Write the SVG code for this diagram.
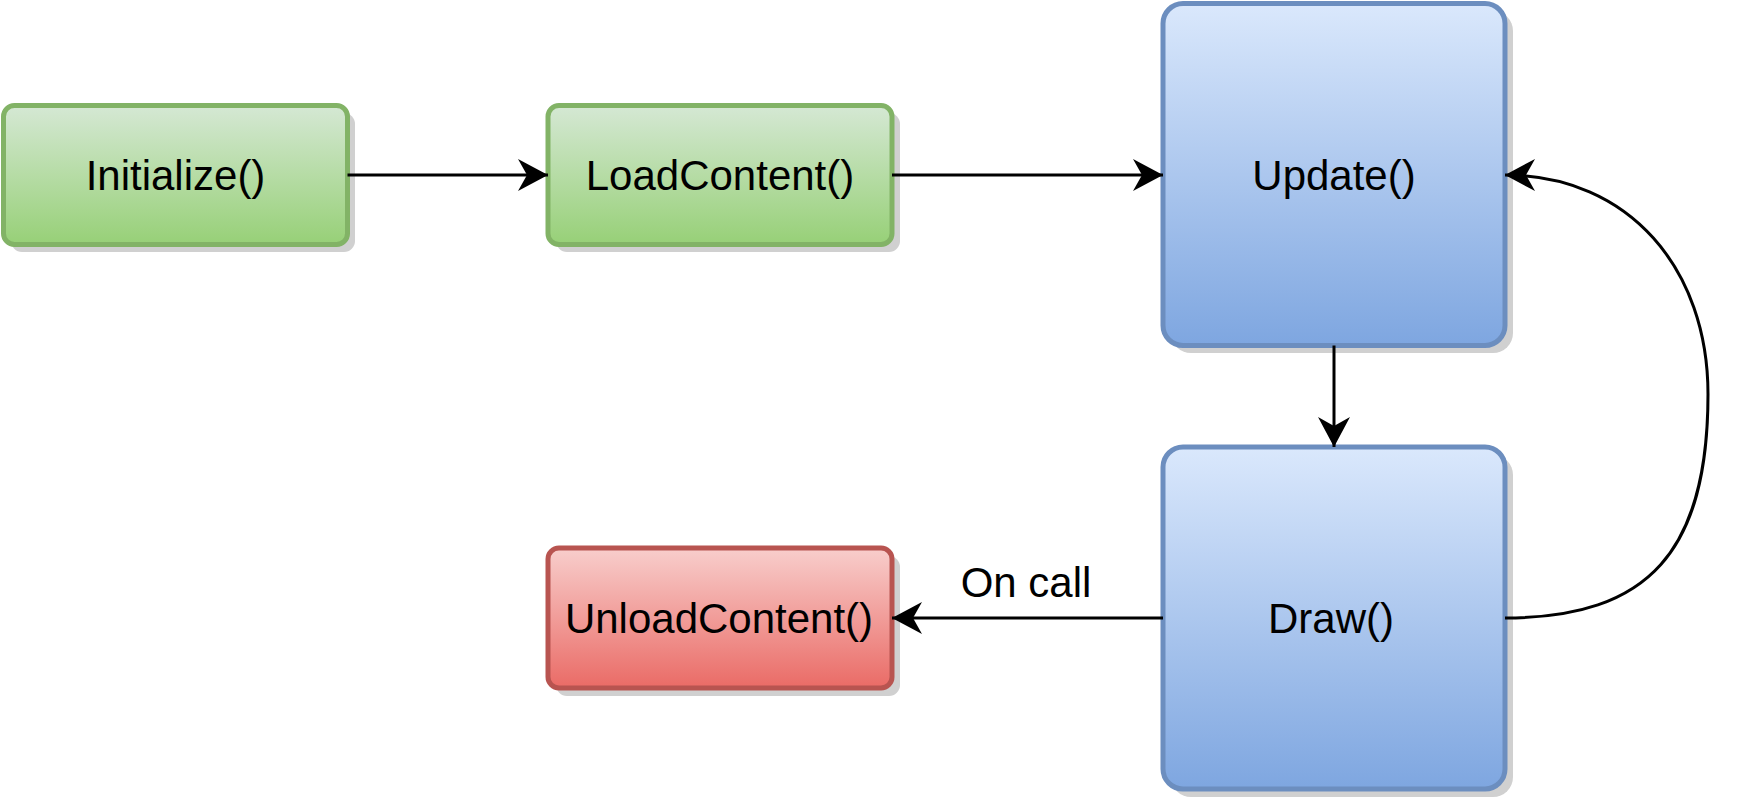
<svg xmlns="http://www.w3.org/2000/svg" width="1738" height="805" viewBox="0 0 1738 805">
  <style>
    .lbl { font-family: "Liberation Sans", Arial, Helvetica, sans-serif; font-size: 42px; fill: #000; text-anchor: middle; }
    .shadow { fill: #d0d0d0; }
    .green { fill: url(#gGreen); stroke: #82b366; stroke-width: 5; }
    .blue { fill: url(#gBlue); stroke: #6c8ebf; stroke-width: 5; }
    .red { fill: url(#gRed); stroke: #b85450; stroke-width: 5; }
    .edge { fill: none; stroke: #000; stroke-width: 3; }
  </style>
  <defs>
    <linearGradient id="gGreen" x1="0" y1="0" x2="0" y2="1">
      <stop offset="0" stop-color="#d5e8d4"/>
      <stop offset="1" stop-color="#97d077"/>
    </linearGradient>
    <linearGradient id="gBlue" x1="0" y1="0" x2="0" y2="1">
      <stop offset="0" stop-color="#dae8fc"/>
      <stop offset="1" stop-color="#7ea6e0"/>
    </linearGradient>
    <linearGradient id="gRed" x1="0" y1="0" x2="0" y2="1">
      <stop offset="0" stop-color="#f8cecc"/>
      <stop offset="1" stop-color="#ea6b66"/>
    </linearGradient>
    <marker id="arrow" markerUnits="userSpaceOnUse" viewBox="-32 -18 34 36" refX="0" refY="0" markerWidth="34" markerHeight="36" orient="auto">
      <path d="M0,0 L-30,-16 L-21,0 L-30,16 Z" fill="#000"/>
    </marker>
  </defs>

  <g id="node-initialize">
    <rect class="shadow" x="11" y="113" width="344" height="139" rx="11"/>
    <rect class="green" x="3.5" y="105.5" width="344" height="139" rx="11"/>
    <text class="lbl" x="175.5" y="190">Initialize()</text>
  </g>
  <g id="node-loadcontent">
    <rect class="shadow" x="556" y="113" width="344" height="139" rx="11"/>
    <rect class="green" x="548" y="105.5" width="344" height="139" rx="11"/>
    <text class="lbl" x="720" y="190">LoadContent()</text>
  </g>
  <g id="node-update">
    <rect class="shadow" x="1171" y="11" width="342" height="342" rx="20"/>
    <rect class="blue" x="1163" y="3.5" width="342" height="342" rx="20"/>
    <text class="lbl" x="1334" y="190">Update()</text>
  </g>
  <g id="node-draw">
    <rect class="shadow" x="1171" y="455" width="342" height="342" rx="20"/>
    <rect class="blue" x="1163" y="447" width="342" height="342" rx="20"/>
    <text class="lbl" x="1331" y="633">Draw()</text>
  </g>
  <g id="node-unloadcontent">
    <rect class="shadow" x="556" y="556" width="344" height="140" rx="11"/>
    <rect class="red" x="548" y="548" width="344" height="140" rx="11"/>
    <text class="lbl" x="719" y="633">UnloadContent()</text>
  </g>

  <g id="connectors">
    <path class="edge" d="M347.5,175 L548,175" marker-end="url(#arrow)"/>
    <path class="edge" d="M892,175 L1163,175" marker-end="url(#arrow)"/>
    <path class="edge" d="M1334,345.5 L1334,447" marker-end="url(#arrow)"/>
    <path class="edge" d="M1163,618 L892,618" marker-end="url(#arrow)"/>
    <path class="edge" d="M1505,618 C1650,618 1708,550 1708,394 C1708,270 1630,175 1505,175" marker-end="url(#arrow)"/>
    <text class="lbl" x="1026" y="597">On call</text>
  </g>
</svg>
